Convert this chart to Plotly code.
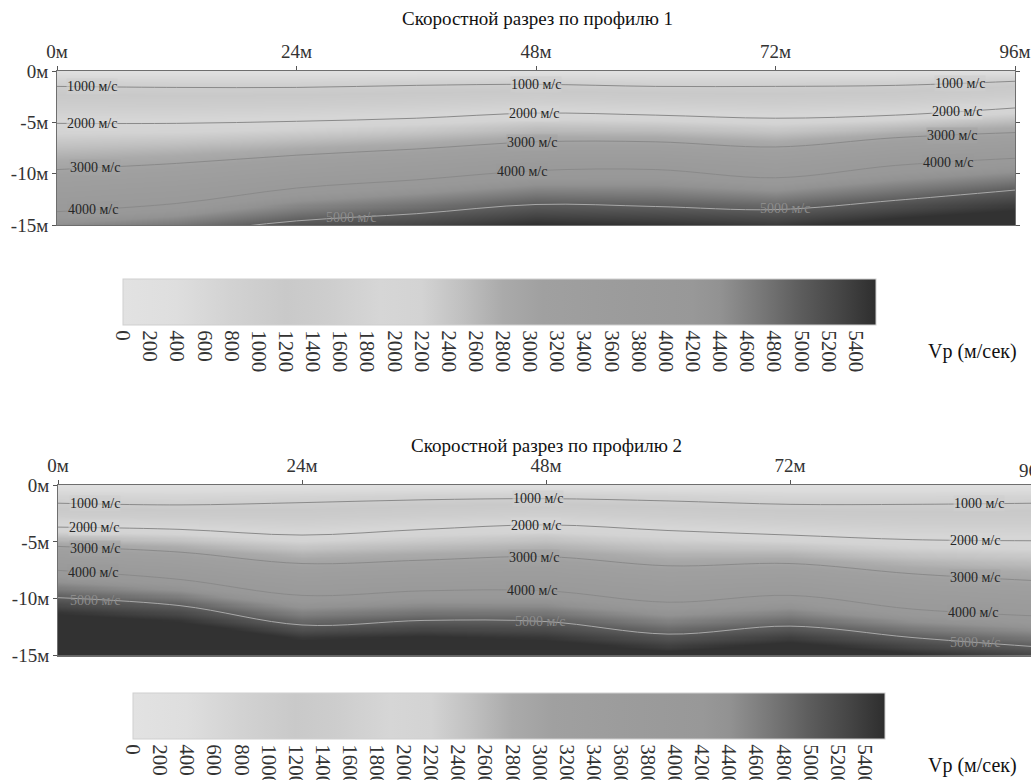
import numpy as np
import plotly.graph_objects as go

W, H = 1031, 780
SERIF = "Liberation Serif, Times New Roman, serif"

TITLE1 = "Скоростной разрез по профилю 1"
TITLE2 = "Скоростной разрез по профилю 2"
CB_TITLE = "Vp (м/сек)"

X_KNOTS = [0, 12, 24, 36, 48, 60, 72, 84, 96]
LEVELS = [1000, 2000, 3000, 4000, 5000]
LEVEL_TEXT = ["1000 м/с", "2000 м/с", "3000 м/с", "4000 м/с", "5000 м/с"]
SURFACE_V = 300
DEEP_V = 5500
VMAX = 5550

X_TICKS = [0, 24, 48, 72, 96]
X_TICKTEXT = ["0м", "24м", "48м", "72м", "96м"]
Y_TICKS = [0, -5, -10, -15]
Y_TICKTEXT = ["0м", "-5м", "-10м", "-15м"]
CB_TICKS = [0, 200, 400, 600, 800, 1000, 1200, 1400, 1600, 1800, 2000, 2200, 2400,
            2600, 2800, 3000, 3200, 3400, 3600, 3800, 4000, 4200, 4400, 4600, 4800,
            5000, 5200, 5400]

# Profile 1: depth (m) of the iso-velocity lines at X_KNOTS
P1_D1000 = [-1.5, -1.6, -1.6, -1.4, -1.3, -1.5, -1.5, -1.4, -1.0]
P1_D2000 = [-5.1, -5.1, -4.9, -4.6, -4.1, -4.3, -4.6, -4.3, -3.6]
P1_D3000 = [-9.6, -9.0, -8.2, -7.6, -6.9, -6.9, -7.4, -6.5, -6.0]
P1_D4000 = [-13.7, -12.9, -11.4, -10.6, -9.7, -9.6, -10.4, -9.2, -8.5]
P1_D5000 = [-16.5, -15.8, -14.6, -13.9, -13.0, -13.2, -13.5, -12.6, -11.6]
P1_D5500 = [-18.0, -17.5, -16.5, -15.8, -14.8, -15.0, -15.3, -14.3, -13.5]

# Profile 2
P2_D1000 = [-1.6, -1.75, -1.55, -1.3, -1.2, -1.4, -1.7, -1.7, -1.6]
P2_D2000 = [-3.7, -3.9, -4.4, -3.9, -3.5, -4.0, -4.4, -4.8, -4.9]
P2_D3000 = [-5.4, -5.9, -6.9, -6.6, -6.3, -7.1, -6.9, -7.8, -8.4]
P2_D4000 = [-7.5, -8.3, -9.7, -9.3, -9.3, -10.3, -9.7, -10.9, -11.5]
P2_D5000 = [-9.9, -10.6, -12.3, -11.9, -12.0, -13.1, -12.4, -13.4, -14.2]
P2_D5500 = [-11.3, -12.0, -13.6, -13.3, -13.6, -14.6, -13.8, -14.8, -15.6]

# grayscale colour stops (velocity, gray level)
CS_V = [0, 400, 800, 1200, 1500, 1900, 2200, 2500, 2800, 3100, 3600, 4200, 4400, 4700, 5000, 5300, 5550]
CS_G = [226, 222, 210, 201, 205, 214, 211, 192, 170, 160, 156, 152, 146, 120, 92, 68, 46]

# label placements: (x in m, level index)
P1_LABELS = [(3.5, 0), (3.5, 1), (3.8, 2), (3.6, 3), (29.5, 4),
             (48, 0), (47.8, 1), (47.6, 2), (46.6, 3),
             (90.5, 0), (90.2, 1), (89.7, 2), (89.3, 3), (73, 4)]
P2_LABELS = [(3.6, 0), (3.5, 1), (3.6, 2), (3.4, 3), (3.6, 4),
             (47.2, 0), (47.0, 1), (46.8, 2), (46.6, 3), (47.4, 4),
             (90.6, 0), (90.2, 1), (90.2, 2), (90.0, 3), (90.2, 4)]


def gray_level(v):
    return int(round(np.interp(v, CS_V, CS_G)))


def gray(v, a=None):
    g = gray_level(v)
    if a is None:
        return f"rgb({g},{g},{g})"
    return f"rgba({g},{g},{g},{a})"


COLORSCALE = [[v / VMAX, gray(v)] for v in CS_V]

xs = np.linspace(0, 96, 193)
ds = np.linspace(-15, 0, 151)


def field(depths):
    vals = [SURFACE_V] + LEVELS + [DEEP_V]
    D = np.array([np.interp(xs, X_KNOTS, d) for d in depths])
    Z = np.empty((len(ds), len(xs)))
    for j in range(len(xs)):
        col = np.concatenate([[0.0], D[:, j]])
        Z[:, j] = np.interp(-ds, -col, vals)
    return Z


P1 = [P1_D1000, P1_D2000, P1_D3000, P1_D4000, P1_D5000, P1_D5500]
P2 = [P2_D1000, P2_D2000, P2_D3000, P2_D4000, P2_D5000, P2_D5500]

fig = go.Figure()


def add_profile(depths, xa, ya, cb_x0, cb_y0, cb_len, labels):
    Z = field(depths)
    fig.add_trace(go.Heatmap(
        x=xs, y=ds, z=Z, zmin=0, zmax=VMAX, colorscale=COLORSCALE, zsmooth="best",
        xaxis=xa, yaxis=ya, hoverinfo="skip",
        colorbar=dict(orientation="h", x=cb_x0 / W, xanchor="left", y=1 - cb_y0 / H,
                      yanchor="top", len=cb_len, lenmode="pixels", thickness=46,
                      xpad=0, ypad=0, tickvals=CB_TICKS, tickangle=90, ticks="",
                      tickfont=dict(family=SERIF, size=21, color="#333"),
                      outlinewidth=1, outlinecolor="#cfcfcf"),
    ))
    for k in range(len(LEVELS)):
        fig.add_trace(go.Scatter(
            x=X_KNOTS, y=depths[k], mode="lines", xaxis=xa, yaxis=ya,
            line=dict(color="#8a8a8a" if k < 4 else "#a8a8a8", width=1, shape="spline", smoothing=1.0),
            hoverinfo="skip", showlegend=False))
    for (lx, k) in labels:
        ly = float(np.interp(lx, X_KNOTS, depths[k]))
        if ly < -15.2:
            continue
        fig.add_annotation(x=lx, y=ly, xref=xa, yref=ya, text=LEVEL_TEXT[k], showarrow=False,
                           xanchor="center", yanchor="middle",
                           font=dict(family=SERIF, size=14, color="#262626" if k < 4 else "#8c8c8c"),
                           bgcolor=gray(LEVELS[k], 0.6) if k < 4 else "rgba(0,0,0,0)", borderpad=0)


add_profile(P1, "x", "y", 123, 279, 753, P1_LABELS)
add_profile(P2, "x2", "y2", 133, 693, 752, P2_LABELS)

axis_common = dict(showgrid=False, zeroline=False, showline=True, linecolor="#6e6e6e",
                   linewidth=1, ticks="outside", ticklen=4, tickcolor="#555",
                   tickfont=dict(family=SERIF, size=19, color="#333"))

X2_DOMAIN = [58 / W, 1.0]
X2_RANGE = [0, 95.7]

fig.update_layout(
    width=W, height=H, margin=dict(l=0, r=0, t=0, b=0, autoexpand=False),
    paper_bgcolor="white", plot_bgcolor="white", showlegend=False,
    xaxis=dict(domain=[57 / W, 1015 / W], range=[0, 96], side="top", anchor="y",
               tickvals=X_TICKS, ticktext=X_TICKTEXT, mirror=True, **axis_common),
    yaxis=dict(domain=[1 - 225 / H, 1 - 71 / H], range=[-15, 0], anchor="x",
               tickvals=Y_TICKS, ticktext=Y_TICKTEXT, mirror="ticks", **axis_common),
    xaxis2=dict(domain=X2_DOMAIN, range=X2_RANGE, side="top", anchor="y2",
                tickvals=X_TICKS, ticktext=X_TICKTEXT, mirror=True, **axis_common),
    yaxis2=dict(domain=[1 - 655.7 / H, 1 - 485 / H], range=[-15, 0], anchor="x2",
                tickvals=Y_TICKS, ticktext=Y_TICKTEXT, mirror="ticks", **axis_common),
)


def paper_text(px, py, text, size, color="#111"):
    fig.add_annotation(x=px / W, y=1 - py / H, xref="paper", yref="paper", text=text,
                       xanchor="center", yanchor="middle", showarrow=False,
                       font=dict(family=SERIF, size=size, color=color))


paper_text(537, 18, TITLE1, 19)
paper_text(546, 445, TITLE2, 19)
paper_text(972, 352, CB_TITLE, 20)
paper_text(972, 765, CB_TITLE, 20)

# the 96м tick of profile 2 lies just beyond the visible page edge
x96 = X2_DOMAIN[0] + (96 - X2_RANGE[0]) / (X2_RANGE[1] - X2_RANGE[0]) * (X2_DOMAIN[1] - X2_DOMAIN[0])
fig.add_annotation(x=x96, y=1 - 485 / H, xref="paper", yref="paper", yshift=15, text="96м",
                   xanchor="center", yanchor="middle", showarrow=False,
                   font=dict(family=SERIF, size=19, color="#333"))

fig.write_html("out.html", config={"displayModeBar": False},
               post_script="document.body.style.margin='0';document.body.style.overflow='hidden';")
